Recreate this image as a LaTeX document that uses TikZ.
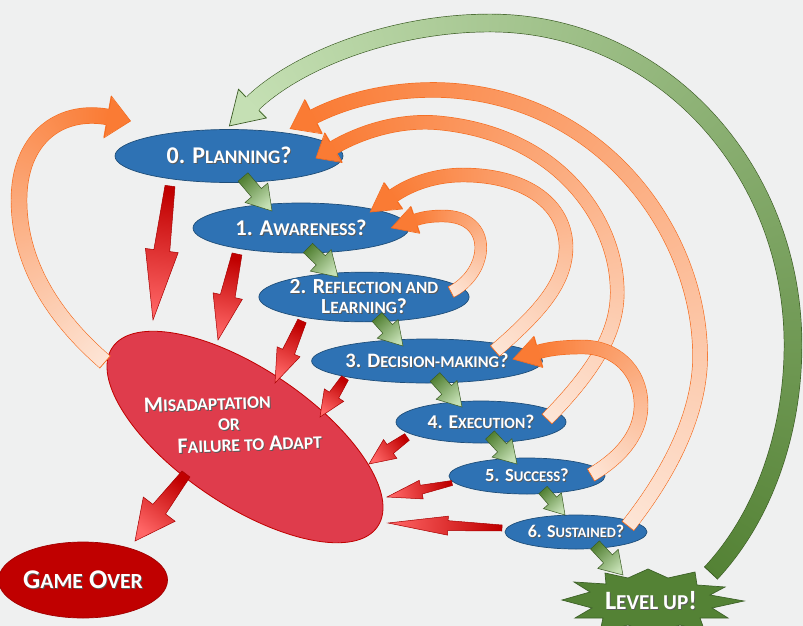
\documentclass[tikz,border=0pt]{standalone}
\usepackage{fontspec}
\setmainfont{Carlito}
\usetikzlibrary{calc,decorations.markings,shapes.geometric}

\definecolor{bg}{HTML}{EFF0F0}
\definecolor{nodeblue}{HTML}{2E72B4}
\definecolor{nodeline}{HTML}{1F4E79}
\definecolor{misfill}{HTML}{DF3C4C}
\definecolor{misline}{HTML}{C00000}
\definecolor{overfill}{HTML}{C00000}
\definecolor{overline}{HTML}{A00000}
\definecolor{lvlfill}{HTML}{548235}
\definecolor{lvlline}{HTML}{3D6128}
\definecolor{otail}{HTML}{FDE5D6}
\definecolor{ohead}{HTML}{FA7B34}
\definecolor{oline}{HTML}{F46B1E}
\definecolor{gtail}{HTML}{548235}
\definecolor{ghead}{HTML}{C5E0B4}
\definecolor{gline}{HTML}{3A5B23}
\definecolor{rtail}{HTML}{C00000}
\definecolor{rhead}{HTML}{FF6666}
\definecolor{rline}{HTML}{A80000}

\newcommand\SC[1]{\scalebox{0.8}{#1}}
\newcommand\sh[1]{\makebox[0pt][l]{\kern0.9pt\raisebox{-0.9pt}{\color{black!65}#1}}#1}

% straight block arrow: style, tail, tip, tail half width, neck half width, head half width, head length
\newcommand\barrow[7]{%
  \coordinate (ba-a) at (#2);
  \coordinate (ba-b) at (#3);
  \coordinate (ba-n) at ($(ba-b)!#7!(ba-a)$);
  \pgfmathanglebetweenpoints{\pgfpointanchor{ba-a}{center}}{\pgfpointanchor{ba-b}{center}}%
  \pgfmathsetmacro\bashade{\pgfmathresult-90}%
  \shadedraw[#1, shading angle=\bashade, line width=0.5pt, line join=miter]
    ($(ba-a)!#4!90:(ba-b)$) -- ($(ba-n)!#5!90:(ba-b)$) -- ($(ba-n)!#6!90:(ba-b)$) -- (ba-b)
    -- ($(ba-n)!#6!-90:(ba-b)$) -- ($(ba-n)!#5!-90:(ba-b)$) -- ($(ba-a)!#4!-90:(ba-b)$) -- cycle;
}

% curved band arrow: path, width, tail colour, head colour, outline colour, head half width, head length
\newcommand\cband[7]{%
  \draw[#5, line width=#2+1.4pt] #1;
  \path[decorate, decoration={markings, mark=between positions 0 and 1 step 1.5pt with {%
      \pgfmathsetmacro\pc{\pgfkeysvalueof{/pgf/decoration/mark info/distance from start}/\pgfdecoratedpathlength*100}%
      \fill[fill=#4!\pc!#3] (0pt,-#2/2) rectangle (2.6pt,#2/2);}}] #1;
  \path[decorate, decoration={markings,
      mark=at position 0 with {\draw[#5, line width=0.7pt] (0pt,-#2/2-0.7pt) -- (0pt,#2/2+0.7pt);},
      mark=at position 0.9995 with {\fill[#4] (-0.8pt,-#6) -- (#7,0pt) -- (-0.8pt,#6) -- cycle;
        \draw[#5, line width=0.7pt, line join=miter] (0pt,-#2/2-0.7pt) -- (0pt,-#6) -- (#7,0pt) -- (0pt,#6) -- (0pt,#2/2+0.7pt);}}] #1;
}

\tikzset{
  stage/.style={ellipse, fill=nodeblue, draw=nodeline, line width=0.7pt, text=white,
    inner sep=0pt, align=center},
  redarr/.style={bottom color=rtail, top color=rhead, draw=rline},
  grnarr/.style={bottom color=gtail, top color=ghead, draw=gline},
}

\begin{document}
\begin{tikzpicture}[x=1pt,y=-1pt]
\useasboundingbox (0,0) rectangle (803,626);
\fill[bg] (0,0) rectangle (803,626);
\clip (0,0) rectangle (803,626);

% ---------- nodes ----------
\node[stage, minimum width=228pt, minimum height=53pt, font=\bfseries\fontsize{24}{25}\selectfont] (n0) at (229,156) {\sh{0. P\SC{LANNING}?}};
\node[stage, minimum width=216pt, minimum height=50pt, font=\bfseries\fontsize{22.5}{24}\selectfont] (n1) at (301,228) {\sh{1. A\SC{WARENESS}?}};
\node[stage, minimum width=200pt, minimum height=48pt, font=\bfseries\fontsize{21.5}{20}\selectfont] (n2) at (364,297) {\sh{2. R\SC{EFLECTION AND}}\\\sh{L\SC{EARNING}?}};
\node[stage, minimum width=184pt, minimum height=44pt, font=\bfseries\fontsize{20.5}{21}\selectfont] (n3) at (427,361) {\sh{3. D\SC{ECISION-MAKING}?}};
\node[stage, minimum width=170pt, minimum height=42pt, font=\bfseries\fontsize{19.5}{21}\selectfont] (n4) at (481,422) {\sh{4. E\SC{XECUTION}?}};
\node[stage, minimum width=156pt, minimum height=36pt, font=\bfseries\fontsize{18.5}{20}\selectfont] (n5) at (527,476) {\sh{5. S\SC{UCCESS}?}};
\node[stage, minimum width=142pt, minimum height=34pt, font=\bfseries\fontsize{18}{19}\selectfont] (n6) at (576,532) {\sh{6. S\SC{USTAINED}?}};

\node[ellipse, fill=misfill, draw=misline, line width=0.8pt, minimum width=320pt, minimum height=136pt, rotate=-34, inner sep=0pt] (misshape) at (245,437) {};
\node[text=white, align=center, rotate=2, font=\bfseries\fontsize{22}{21}\selectfont] (mis) at (229,424)
  {\hspace*{-42pt}\sh{M\SC{ISADAPTATION}}\\\sh{\SC{OR}}\\\hspace*{40pt}\sh{F\SC{AILURE TO} A\SC{DAPT}}};

\node[ellipse, fill=overfill, draw=overline, line width=0.7pt, minimum width=150pt, minimum height=76pt, inner sep=0pt, text=white, font=\bfseries\fontsize{27}{28}\selectfont] (over) at (83,580) {\sh{G\SC{AME} O\SC{VER}}};

\fill[lvlfill, draw=lvlline, line width=0.7pt]
  (562,600) -- (590,592) -- (574,582) -- (606,584) -- (605,573) -- (628,578) -- (648,569)
  -- (668,578) -- (695,572) -- (697,585) -- (725,587) -- (710,595) -- (744,601) -- (712,608)
  -- (728,618) -- (700,618) -- (705,632) -- (680,625) -- (652,634) -- (628,625) -- (600,632)
  -- (603,618) -- (575,618) -- (592,608) -- cycle;
\node[text=white, font=\bfseries\fontsize{26.5}{27}\selectfont] (lvl) at (651,601) {\sh{L\SC{EVEL UP}!}};

% ---------- green progression arrows ----------
\barrow{grnarr}{243,177}{272,211}{6.5pt}{6.5pt}{15pt}{24pt}
\barrow{grnarr}{308,248}{338,277}{6.5pt}{6.5pt}{15pt}{24pt}
\barrow{grnarr}{377,317}{403,346}{6.5pt}{6.5pt}{14pt}{23pt}
\barrow{grnarr}{435,377}{462,407}{6.5pt}{6.5pt}{14pt}{23pt}
\barrow{grnarr}{490,435}{517,464}{6pt}{6pt}{13.5pt}{22pt}
\barrow{grnarr}{543,490}{565,515}{5.5pt}{5.5pt}{12pt}{19pt}
\barrow{grnarr}{595,545}{623,575}{6pt}{6pt}{14pt}{22pt}

% ---------- red failure arrows ----------
\barrow{redarr}{170,186}{153,320}{5pt}{8pt}{16.5pt}{70pt}
\barrow{redarr}{237,254}{218,340}{5pt}{7.5pt}{15pt}{45pt}
\barrow{redarr}{302,321}{275,383}{4.5pt}{6.5pt}{12.5pt}{34pt}
\barrow{redarr}{345,378}{320,417}{4pt}{5.5pt}{11.5pt}{26pt}
\barrow{redarr}{407,437}{369,464}{4pt}{5.5pt}{11.5pt}{26pt}
\barrow{redarr}{452,483}{387,497}{2.5pt}{4.5pt}{9.5pt}{35pt}
\barrow{redarr}{502,528}{388,523}{3pt}{5pt}{9.5pt}{60pt}
\barrow{redarr}{186,474}{135,541}{5pt}{8pt}{20pt}{40pt}

% ---------- curved feedback arrows ----------
\cband{(711,573) .. controls (765,515) and (793,430) .. (793,345) .. controls (793,167) and (659,23) .. (490,23) .. controls (390,23) and (295,62) .. (252,104)}{17pt}{gtail}{ghead}{gline}{20pt}{32pt}
\cband{(628,526) .. controls (680,460) and (702,400) .. (700,350) .. controls (697,230) and (600,95) .. (440,90) .. controls (395,89) and (350,98) .. (313,117)}{14pt}{otail}{ohead}{oline}{19pt}{26pt}
\cband{(547,419) .. controls (595,370) and (620,330) .. (617,285) .. controls (614,220) and (560,135) .. (440,123) .. controls (400,119) and (360,132) .. (333,148)}{13pt}{otail}{ohead}{oline}{17pt}{20pt}
\cband{(495,351) .. controls (540,312) and (567,282) .. (566,245) .. controls (564,200) and (520,175) .. (463,175) .. controls (435,175) and (410,184) .. (393,196)}{13pt}{otail}{ohead}{oline}{16pt}{28pt}
\cband{(451,292) .. controls (490,272) and (494,216) .. (443,216) .. controls (432,216) and (424,217) .. (415,220)}{11pt}{otail}{ohead}{oline}{14pt}{25pt}
\cband{(591,475) .. controls (625,455) and (642,430) .. (641,403) .. controls (640,370) and (615,347) .. (583,347) .. controls (567,347) and (552,348) .. (538,352)}{13pt}{otail}{ohead}{oline}{16pt}{26pt}
\cband{(105,362) .. controls (45,310) and (19,255) .. (19,200) .. controls (19,140) and (58,108) .. (108,117)}{15pt}{otail}{ohead}{oline}{21pt}{23pt}
\end{tikzpicture}
\end{document}
